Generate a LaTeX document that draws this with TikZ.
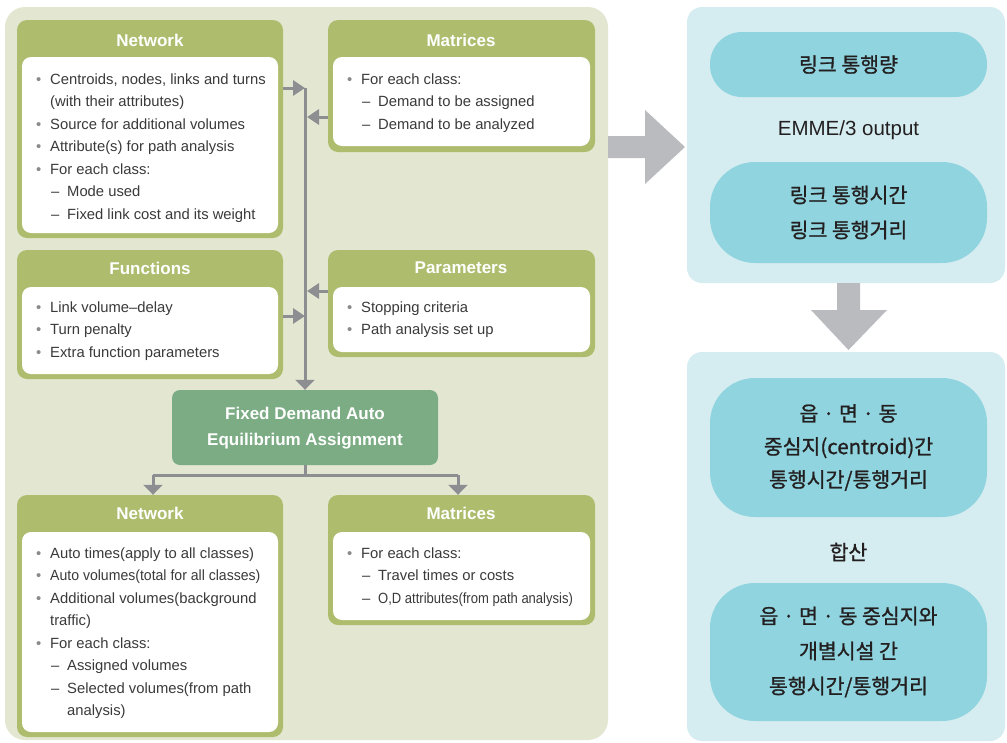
\documentclass[tikz,border=0pt]{standalone}
\usepackage{fontspec}
\usepackage{graphicx}
\setmainfont{Liberation Sans}
\newfontfamily\kr{Noto Sans CJK KR}[FakeBold=1]
\usetikzlibrary{fit,arrows.meta}
\definecolor{panelG}{HTML}{E3E7D1}
\definecolor{boxG}{HTML}{AEBC6E}
\definecolor{fixG}{HTML}{7BAC84}
\definecolor{connc}{HTML}{8D8E92}
\definecolor{bigarr}{HTML}{BABBBF}
\definecolor{panelC}{HTML}{D5EDF1}
\definecolor{pillC}{HTML}{8FD4DE}
\definecolor{txt}{HTML}{3A3A3A}
\definecolor{bulc}{HTML}{8A8A8A}
\definecolor{krtxt}{HTML}{231F20}
\newcommand\bi{\makebox[14pt][l]{\textcolor{bulc}{\textbullet}}}
\newcommand\di{\hspace*{15pt}\makebox[16pt][l]{--}}
\newcommand\ci{\hspace*{14pt}}
\newcommand\cdi{\hspace*{31pt}}
\begin{document}
\begin{tikzpicture}[x=1pt,y=-1pt,
  panel/.style={inner sep=0pt, draw=none},
  gbox/.style={fill=boxG, rounded corners=10pt, inner sep=0pt, draw=none},
  wbox/.style={fill=white, rounded corners=9pt, inner sep=0pt, draw=none},
  head/.style={text=white, font=\bfseries\fontsize{17}{20}\selectfont, inner sep=0pt},
  body/.style={text=txt, font=\fontsize{14.8}{22.5}\selectfont, inner sep=0pt, anchor=base west},
  conn/.style={draw=connc, line width=3pt},
  arr/.style={conn, -{Triangle[length=12pt,width=15pt]}},
  darr/.style={conn, -{Triangle[length=10pt,width=19pt]}},
  pill/.style={fill=pillC, inner sep=0pt, draw=none},
  krt/.style={text=krtxt, font=\kr\fontsize{20.5}{34}\selectfont, align=center, inner sep=0pt},
]
\useasboundingbox (0,0) rectangle (1007,742);
\clip (0,0) rectangle (1007,742);
\fill[white] (0,0) rectangle (1007,742);

% ---------- left green panel ----------
\node[panel, fill=panelG, rounded corners=20pt, fit={(5,7)(608,740)}] (gp) {};

% Network (input)
\node[gbox, fit={(17,20)(283,238)}] (netA) {};
\node[wbox, fit={(22,57)(278,233)}] (netAw) {};
\node[head] (netAh) at (150,40) {Network};
\node[body] (netAt) at (36,84) {\parbox[t]{240pt}{\raggedright
\bi Centroids, nodes, links and turns\\
\ci (with their attributes)\\
\bi Source for additional volumes\\
\bi Attribute(s) for path analysis\\
\bi For each class:\\
\di Mode used\\
\di Fixed link cost and its weight}};

% Matrices (input)
\node[gbox, fit={(328,20)(595,152)}] (matA) {};
\node[wbox, fit={(333,57)(590,146)}] (matAw) {};
\node[head] (matAh) at (461,40) {Matrices};
\node[body] (matAt) at (347,84) {\parbox[t]{240pt}{\raggedright
\bi For each class:\\
\di Demand to be assigned\\
\di Demand to be analyzed}};

% Functions
\node[gbox, fit={(17,250)(283,379)}] (funB) {};
\node[wbox, fit={(22,287)(278,374)}] (funBw) {};
\node[head] (funBh) at (150,268) {Functions};
\node[body] (funBt) at (36,312) {\parbox[t]{240pt}{\raggedright
\bi Link volume--delay\\
\bi Turn penalty\\
\bi Extra function parameters}};

% Parameters
\node[gbox, fit={(328,250)(595,357)}] (parB) {};
\node[wbox, fit={(333,287)(590,352)}] (parBw) {};
\node[head] (parBh) at (461,268) {Parameters};
\node[body] (parBt) at (347,312) {\parbox[t]{240pt}{\raggedright
\bi Stopping criteria\\
\bi Path analysis set up}};

% Fixed demand box
\node[fill=fixG, rounded corners=8pt, inner sep=0pt, fit={(172,390)(438,465)}] (fix) {};
\node[text=white, font=\bfseries\fontsize{17}{26}\selectfont, align=center, inner sep=0pt] (fixt) at (305,428) {Fixed Demand Auto\\Equilibrium Assignment};

% Network (output)
\node[gbox, fit={(17,495)(283,737)}] (netC) {};
\node[wbox, fit={(22,532)(278,732)}] (netCw) {};
\node[head] (netCh) at (150,513) {Network};
\node[body] (netCt) at (36,558) {\parbox[t]{240pt}{\raggedright
\bi Auto times(apply to all classes)\\
\bi \scalebox{0.95}[1]{Auto volumes(total for all classes)}\\
\bi Additional volumes(background\\
\ci traffic)\\
\bi For each class:\\
\di Assigned volumes\\
\di Selected volumes(from path\\
\cdi analysis)}};

% Matrices (output)
\node[gbox, fit={(328,495)(595,625)}] (matC) {};
\node[wbox, fit={(333,532)(590,620)}] (matCw) {};
\node[head] (matCh) at (461,513) {Matrices};
\node[body] (matCt) at (347,558) {\parbox[t]{240pt}{\raggedright
\bi For each class:\\
\di Travel times or costs\\
\di \scalebox{0.88}[1]{O,D attributes(from path analysis)}}};

% ---------- connectors ----------
\coordinate (b1) at (305,88);
\coordinate (b2) at (307,117);
\coordinate (b3) at (307,291);
\coordinate (b4) at (305,316);
\coordinate (j0) at (305,475);
\coordinate (jl) at (153,475);
\coordinate (jr) at (458,475);
\draw[darr] (b1) -- (fix.north);
\draw[arr] (netA.east |- b1) -- (b1);
\draw[arr] (matA.west |- b2) -- (b2);
\draw[arr] (parB.west |- b3) -- (b3);
\draw[arr] (funB.east |- b4) -- (b4);
\draw[conn] (fix.south) -- (j0);
\draw[conn] (jl) -- (jr);
\draw[darr] (jl) -- (jl |- netC.north);
\draw[darr] (jr) -- (jr |- matC.north);

% ---------- right panels ----------
\node[panel, fill=panelC, rounded corners=15pt, fit={(687,7)(1005,283)}] (cp1) {};
\node[panel, fill=panelC, rounded corners=15pt, fit={(687,352)(1005,741)}] (cp2) {};

\node[pill, rounded corners=32pt, fit={(710,32)(987,97)}] (p1) {};
\node[krt] (p1t) at (p1.center) {링크 통행량};
\node[text=krtxt, font=\fontsize{20.5}{24}\selectfont, inner sep=0pt] (emme) at (848.5,130) {EMME/3 output};
\node[pill, rounded corners=45pt, fit={(710,162)(987,263)}] (p2) {};
\node[krt, font=\kr\fontsize{20.5}{35}\selectfont] (p2t) at (p2.center) {링크 통행시간\\링크 통행거리};

\node[pill, rounded corners=45pt, fit={(710,378)(987,517)}] (p3) {};
\node[krt, font=\kr\fontsize{20.5}{33}\selectfont] (p3t) at (p3.center) {읍 · 면 · 동\\중심지(centroid)간\\통행시간/통행거리};
\node[text=krtxt, font=\kr\fontsize{20.5}{24}\selectfont, inner sep=0pt] (hap) at (848.5,552) {합산};
\node[pill, rounded corners=45pt, fit={(710,583)(987,721)}] (p4) {};
\node[krt, font=\kr\fontsize{20.5}{35}\selectfont] (p4t) at (p4.center) {읍 · 면 · 동 중심지와\\개별시설 간\\통행시간/통행거리};

% ---------- big arrows ----------
\fill[bigarr] (gp.east |- 0,136) -- (645,136) -- (645,110) -- (685,147) -- (645,184) -- (645,158) -- (gp.east |- 0,158) -- cycle;
\fill[bigarr] (837,0 |- cp1.south) -- (837,310) -- (811,310) -- (848.5,350) -- (887,310) -- (860,310) -- (860,0 |- cp1.south) -- cycle;
\end{tikzpicture}
\end{document}
